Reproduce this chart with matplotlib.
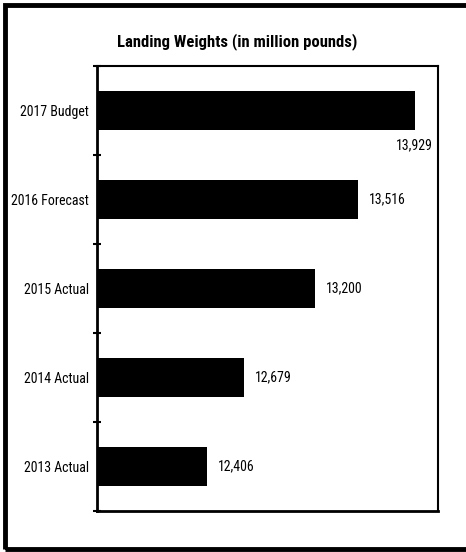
import matplotlib.pyplot as plt
from matplotlib.patches import Rectangle

# Dados das barras (de cima para baixo)
categorias = ['2017 Budget', '2016 Forecast', '2015 Actual', '2014 Actual', '2013 Actual']
pesos = [13929, 13516, 13200, 12679, 12406]

plt.rcParams['font.family'] = ['Roboto Condensed', 'DejaVu Sans']

largura, altura = 466, 552
fig = plt.figure(figsize=(largura / 100, altura / 100), dpi=100)
ax = fig.add_axes([97 / largura, 1 - 511 / altura, (438 - 97) / largura, (511 - 66) / altura])

posicoes = list(range(len(categorias)))[::-1]
ax.barh(posicoes, pesos, height=0.44, color='black')
ax.set_xlim(11600, 14100)
ax.set_ylim(-0.5, len(categorias) - 0.5)

# Rótulos das categorias e marcas entre elas
ax.set_yticks(posicoes)
ax.set_yticklabels(categorias, fontsize=10)
ax.tick_params(axis='y', which='major', length=0, pad=6)
ax.set_yticks([i + 0.5 for i in range(-1, len(categorias))], minor=True)
ax.tick_params(axis='y', which='minor', length=6, width=1.5, direction='inout')
ax.set_xticks([])

for lado in ['left', 'bottom']:
    ax.spines[lado].set_linewidth(2)
for lado in ['top', 'right']:
    ax.spines[lado].set_linewidth(1.5)

# Valores ao lado das barras
for pos, valor in zip(posicoes, pesos):
    texto = f'{valor:,}'
    if valor == max(pesos):
        ax.text(valor, pos - 0.39, texto, ha='center', va='center', fontsize=10)
    else:
        ax.text(valor + 80, pos, texto, ha='left', va='center', fontsize=10)

fig.text(237 / largura, 1 - 42 / altura, 'Landing Weights (in million pounds)',
         ha='center', va='center', fontsize=12, fontweight='bold')

# Moldura externa
fig.patches.append(Rectangle((5 / largura, 3 / altura), 1.0, 1 - 8 / altura,
                             transform=fig.transFigure, fill=False,
                             edgecolor='black', linewidth=3.5))

plt.savefig('out.png', dpi=100)
